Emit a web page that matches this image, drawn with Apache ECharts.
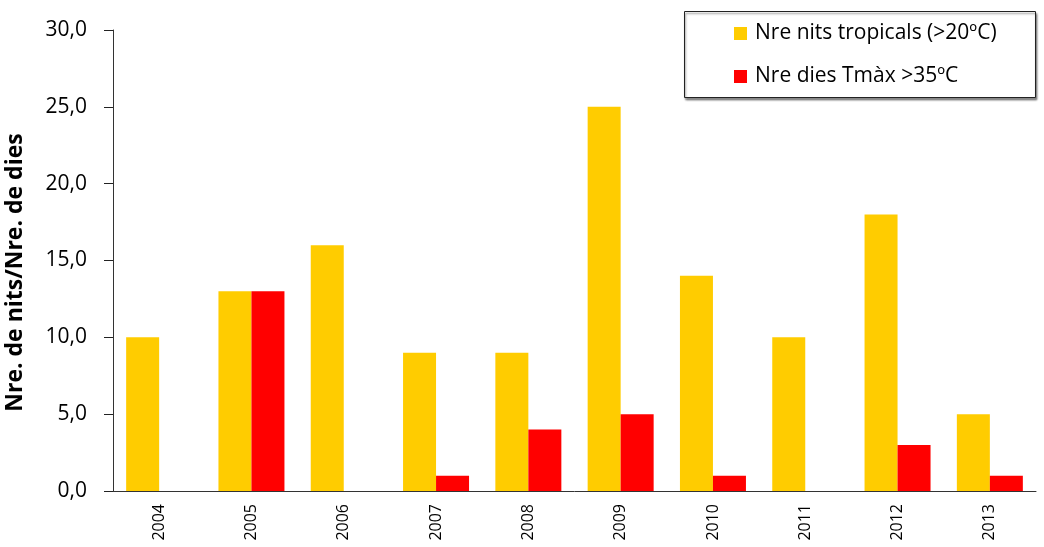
<!DOCTYPE html>
<html>
<head>
<meta charset="utf-8">
<script src="https://cdn.jsdelivr.net/npm/echarts@6/dist/echarts.min.js"></script>
<style>
  html, body { margin: 0; padding: 0; background: #fff; }
  #main { width: 1044px; height: 547px; }
</style>
</head>
<body>
<div id="main"></div>
<script>
// dades
var anys = ['2004', '2005', '2006', '2007', '2008', '2009', '2010', '2011', '2012', '2013'];
var nitsTropicals = [10, 13, 16, 9, 9, 25, 14, 10, 18, 5];
var diesTmax35 = [0, 13, 0, 1, 4, 5, 1, 0, 3, 1];

var font = '"Open Sans", "Liberation Sans", sans-serif';

var myChart = echarts.init(document.getElementById('main'));

var option = {
  animation: false,
  textStyle: { fontFamily: font },
  grid: { left: 113, right: 8, top: 30, bottom: 56, containLabel: false, outerBoundsMode: 'none' },
  graphic: [{
    type: 'rect',
    left: 684, top: 11,
    shape: { width: 351, height: 86 },
    style: {
      fill: '#fff', stroke: '#222', lineWidth: 1,
      shadowColor: 'rgba(0,0,0,0.45)', shadowBlur: 2, shadowOffsetX: 1, shadowOffsetY: 2
    },
    z: 5
  }],
  legend: {
    orient: 'vertical',
    left: 734, top: 11,
    padding: [12, 0, 9, 0],
    itemWidth: 13, itemHeight: 13,
    itemGap: 22,
    icon: 'rect',
    textStyle: { fontFamily: font, fontSize: 21, color: '#000', padding: [0, 0, 0, 3] },
    z: 10,
    data: ['Nre nits tropicals (>20ºC)', 'Nre dies Tmàx >35ºC']
  },
  xAxis: {
    type: 'category',
    data: anys,
    axisLine: { lineStyle: { color: '#333', width: 1 } },
    axisTick: { length: 6, lineStyle: { color: '#333' } },
    axisLabel: { rotate: 90, fontSize: 16, color: '#000', margin: 13, fontFamily: font }
  },
  yAxis: {
    type: 'value',
    min: 0, max: 30, interval: 5,
    name: 'Nre. de nits/Nre. de dies',
    nameLocation: 'middle',
    nameGap: 86,
    nameTextStyle: { fontSize: 23, fontWeight: 'bold', color: '#000', fontFamily: font, padding: [0, 24, 0, 0] },
    axisLine: { show: true, lineStyle: { color: '#333', width: 1 } },
    axisTick: { show: true, length: 9, lineStyle: { color: '#222', width: 1 } },
    splitLine: { show: false },
    axisLabel: {
      fontSize: 21, color: '#000', margin: 26, fontFamily: font,
      formatter: function (v) { return v.toFixed(1).replace('.', ','); }
    }
  },
  series: [
    {
      name: 'Nre nits tropicals (>20ºC)',
      type: 'bar',
      data: nitsTropicals,
      barWidth: 33,
      barGap: '0%',
      itemStyle: { color: '#FFCC00' }
    },
    {
      name: 'Nre dies Tmàx >35ºC',
      type: 'bar',
      data: diesTmax35,
      barWidth: 33,
      barGap: '0%',
      itemStyle: { color: '#FF0000' }
    }
  ]
};

myChart.setOption(option);
</script>
</body>
</html>
